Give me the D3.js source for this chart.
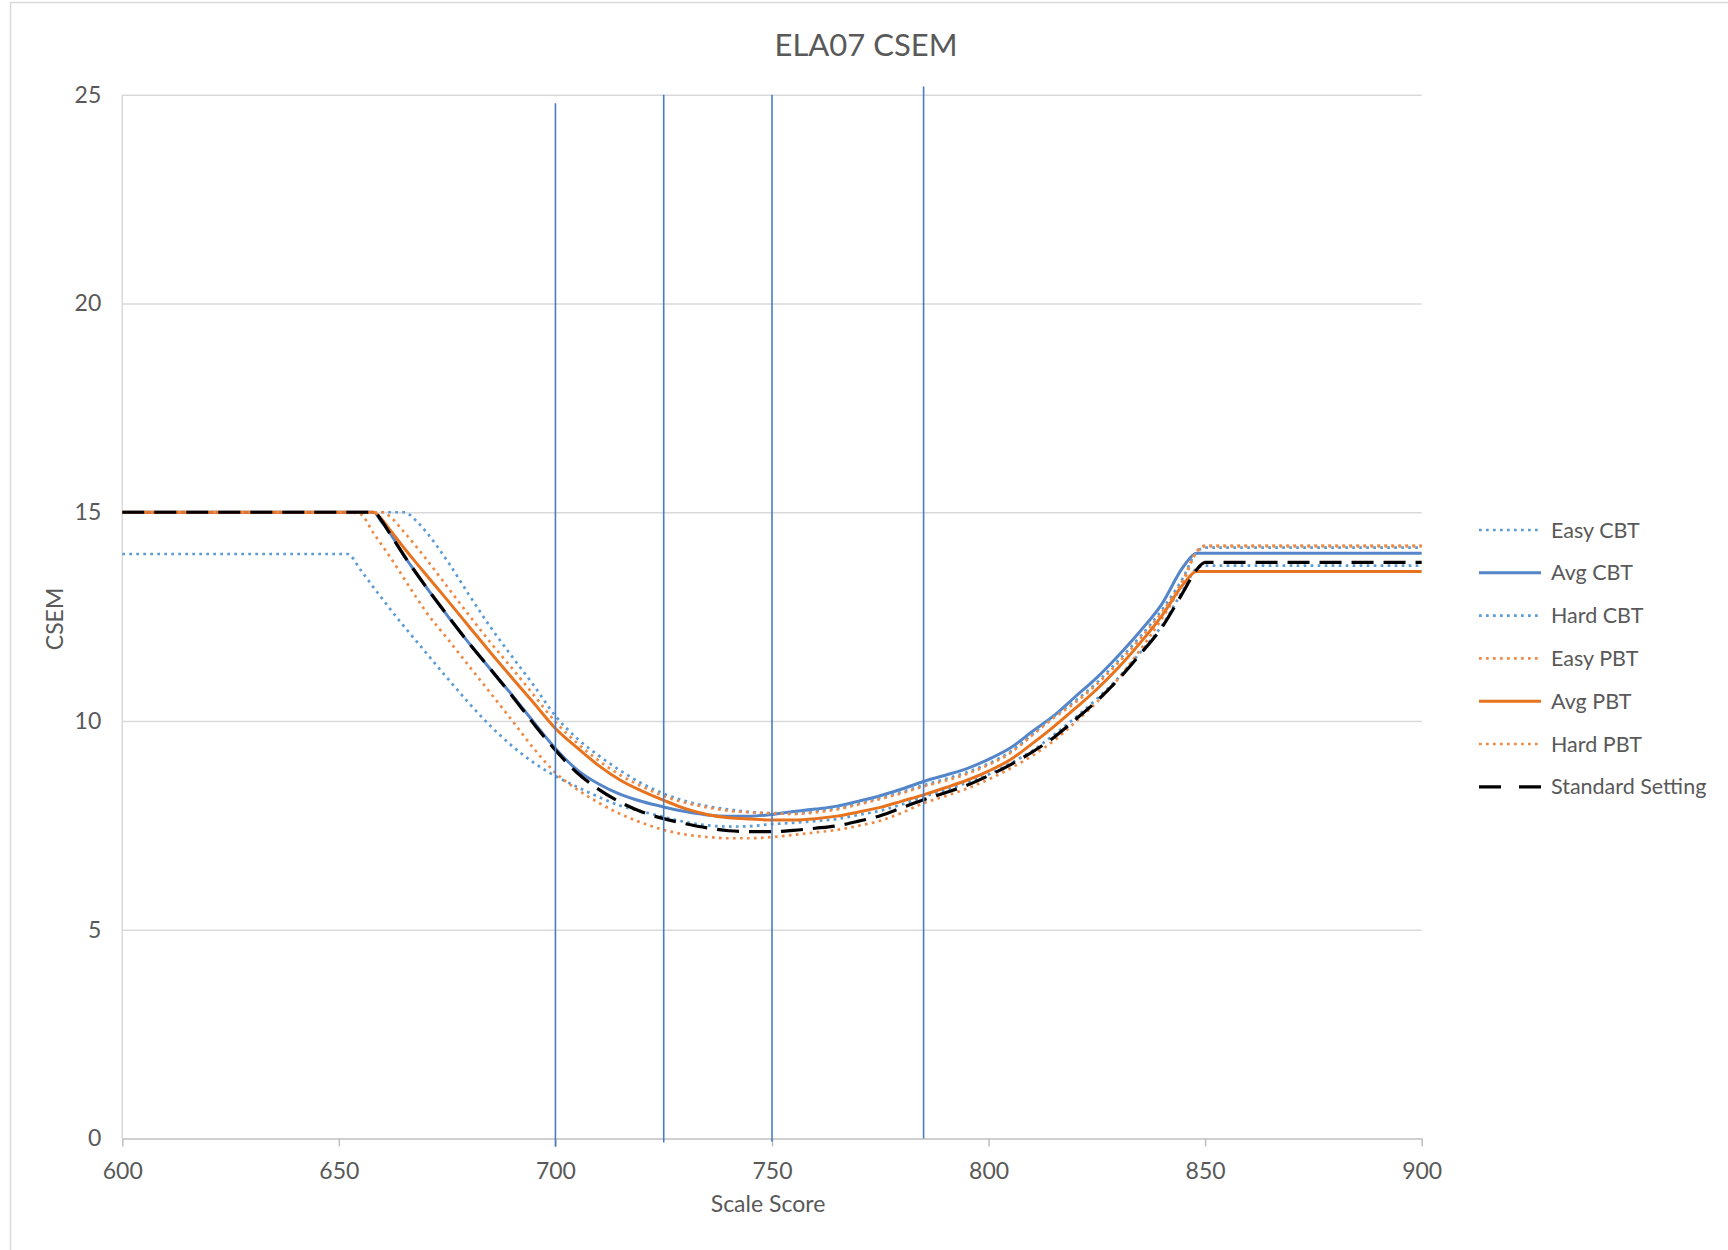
<!DOCTYPE html>
<html>
<head>
<meta charset="utf-8">
<script src="https://cdn.jsdelivr.net/npm/d3@7"></script>
<style>
  html, body { margin: 0; padding: 0; background: #ffffff; }
  svg { display: block; }
  text { font-family: Lato, "Open Sans", sans-serif; fill: #595959; }
</style>
</head>
<body>
<svg id="chart" width="1728" height="1250"></svg>
<script>
// Scale scores at which every CSEM series is tabulated
const scaleScores = [600, 650, 652, 655, 658, 660, 662, 665, 668, 670,
  675, 680, 685, 690, 695, 700, 705, 710, 715, 720, 725, 730, 735, 740, 745,
  750, 755, 760, 765, 770, 775, 780, 785, 790, 795, 800, 805, 810, 815, 820,
  825, 830, 835, 840, 845, 848, 850, 900];

const easyCBT = [14.0, 14.0, 14.0, 13.62, 13.2, 12.93, 12.66, 12.27, 11.9, 11.65,
  11.03, 10.43, 9.88, 9.4, 9.0, 8.68, 8.42, 8.18, 7.97, 7.83, 7.70, 7.58, 7.50, 7.47, 7.48,
  7.53, 7.56, 7.6, 7.65, 7.75, 7.85, 8.0, 8.18, 8.35, 8.52, 8.72, 8.98, 9.28, 9.66, 10.08,
  10.53, 11.04, 11.64, 12.28, 13.15, 13.65, 13.72, 13.72];

const avgCBT = [15, 15, 15, 15, 15, 14.75, 14.47, 13.97, 13.52, 13.23,
  12.53, 11.87, 11.24, 10.62, 9.97, 9.34, 8.83, 8.49, 8.24, 8.07, 7.94, 7.83, 7.75, 7.72, 7.72,
  7.76, 7.83, 7.89, 7.96, 8.08, 8.21, 8.37, 8.55, 8.7, 8.86, 9.08, 9.35, 9.74, 10.12, 10.58,
  11.04, 11.57, 12.15, 12.8, 13.7, 14.02, 14.02, 14.02];

const hardCBT = [15, 15, 15, 15, 15, 15, 15, 15, 14.78, 14.55,
  13.84, 13.03, 12.25, 11.54, 10.85, 10.12, 9.58, 9.17, 8.81, 8.5, 8.26, 8.08, 7.96, 7.88, 7.82,
  7.79, 7.79, 7.84, 7.91, 8.03, 8.16, 8.3, 8.46, 8.61, 8.77, 8.98, 9.26, 9.67, 10.1, 10.48,
  10.92, 11.45, 12.02, 12.66, 13.45, 14.05, 14.15, 14.15];

const easyPBT = [15, 15, 15, 14.95, 14.5, 14.2, 13.9, 13.42, 12.94, 12.63,
  11.98, 11.32, 10.67, 10.01, 9.34, 8.76, 8.36, 8.04, 7.77, 7.56, 7.39, 7.28, 7.22, 7.19, 7.19,
  7.22, 7.27, 7.33, 7.39, 7.49, 7.61, 7.8, 8.03, 8.2, 8.38, 8.6, 8.86, 9.16, 9.52, 9.97,
  10.45, 11.02, 11.7, 12.45, 13.35, 14.05, 14.2, 14.2];

const avgPBT = [15, 15, 15, 15, 15, 14.82, 14.55, 14.15, 13.77, 13.52,
  12.9, 12.27, 11.64, 11.03, 10.43, 9.82, 9.36, 8.93, 8.58, 8.32, 8.1, 7.9, 7.76, 7.68, 7.65,
  7.63, 7.63, 7.66, 7.72, 7.82, 7.93, 8.08, 8.23, 8.4, 8.58, 8.8, 9.07, 9.45, 9.86, 10.3,
  10.76, 11.28, 11.87, 12.52, 13.28, 13.58, 13.58, 13.58];

const hardPBT = [15, 15, 15, 15, 15, 15, 14.88, 14.53, 14.16, 13.9,
  13.22, 12.54, 11.88, 11.26, 10.62, 9.98, 9.47, 9.05, 8.7, 8.43, 8.2, 8.04, 7.93, 7.85, 7.81,
  7.79, 7.77, 7.81, 7.88, 8.0, 8.13, 8.27, 8.43, 8.57, 8.73, 8.95, 9.23, 9.65, 10.07, 10.44,
  10.88, 11.4, 11.97, 12.6, 13.4, 14.05, 14.18, 14.18];

const standardSetting = [15, 15, 15, 15, 15, 14.78, 14.45, 13.97, 13.52, 13.23,
  12.54, 11.87, 11.24, 10.6, 9.93, 9.3, 8.76, 8.36, 8.05, 7.82, 7.66, 7.54, 7.44, 7.37, 7.35,
  7.35, 7.38, 7.43, 7.49, 7.6, 7.73, 7.92, 8.11, 8.28, 8.46, 8.69, 8.95, 9.25, 9.6, 10.03,
  10.48, 11.0, 11.6, 12.24, 13.1, 13.62, 13.8, 13.8];

const seriesNames = ["Easy CBT", "Avg CBT", "Hard CBT", "Easy PBT", "Avg PBT", "Hard PBT", "Standard Setting"];
const seriesValues = [easyCBT, avgCBT, hardCBT, easyPBT, avgPBT, hardPBT, standardSetting];

// Cut-score reference lines (x position, lower and upper CSEM extent)
const cutScores = [700, 725, 750, 785];
const cutLow = [-0.2, -0.1, -0.08, 0];
const cutHigh = [24.8, 25, 25, 25.2];

const xTicks = [600, 650, 700, 750, 800, 850, 900];
const yTicks = [0, 5, 10, 15, 20, 25];

// Line styles per series
const styles = {
  "Easy CBT":         { color: "#5b9bd5", width: 2.7, dash: "2.7 4.3" },
  "Avg CBT":          { color: "#5585c9", width: 3,   dash: null },
  "Hard CBT":         { color: "#5b9bd5", width: 2.7, dash: "2.7 4.3" },
  "Easy PBT":         { color: "#ef8a46", width: 2.7, dash: "2.7 4.3" },
  "Avg PBT":          { color: "#e8731f", width: 3,   dash: null },
  "Hard PBT":         { color: "#ef8a46", width: 2.7, dash: "2.7 4.3" },
  "Standard Setting": { color: "#000000", width: 3.2, dash: "22 10" }
};

const svg = d3.select("#chart");

// Chart frame
svg.append("rect")
  .attr("x", 10.5).attr("y", 2.5)
  .attr("width", 1740).attr("height", 1260)
  .attr("fill", "none").attr("stroke", "#d9d9d9").attr("stroke-width", 1.5);

const x = d3.scaleLinear().domain([600, 900]).range([122.3, 1421.7]);
const y = d3.scaleLinear().domain([0, 25]).range([1138.4, 94.8]);

// Horizontal gridlines
svg.append("g")
  .attr("transform", `translate(${x(600)},0)`)
  .call(d3.axisLeft(y).tickValues(yTicks.filter(v => v > 0)).tickSize(-(x(900) - x(600))).tickFormat(""))
  .call(g => g.select(".domain").remove())
  .call(g => g.selectAll("line").attr("stroke", "#d9d9d9").attr("stroke-width", 1.5));

// Vertical axis line
svg.append("line")
  .attr("x1", x(600)).attr("x2", x(600))
  .attr("y1", y(25)).attr("y2", y(0))
  .attr("stroke", "#d9d9d9").attr("stroke-width", 1.5);

// Y tick labels
svg.append("g")
  .attr("transform", `translate(${x(600)},0)`)
  .call(d3.axisLeft(y).tickValues(yTicks).tickSize(0).tickPadding(21))
  .call(g => g.select(".domain").remove())
  .call(g => g.selectAll("text").attr("font-size", 23).attr("fill", "#595959")
    .attr("font-family", "Lato, 'Open Sans', sans-serif"));

// X axis with outward ticks
svg.append("g")
  .attr("transform", `translate(0,${y(0)})`)
  .call(d3.axisBottom(x).tickValues(xTicks).tickSize(8).tickSizeOuter(0).tickPadding(16))
  .call(g => g.select(".domain").attr("stroke", "#bfbfbf").attr("stroke-width", 1.5))
  .call(g => g.selectAll("line").attr("stroke", "#bfbfbf").attr("stroke-width", 1.5))
  .call(g => g.selectAll("text").attr("font-size", 23).attr("fill", "#595959")
    .attr("font-family", "Lato, 'Open Sans', sans-serif"));

// CSEM curves
const line = d3.line()
  .x((d, i) => x(scaleScores[i]))
  .y(d => y(d))
  .curve(d3.curveMonotoneX);

const curves = svg.append("g");
seriesNames.forEach((name, k) => {
  const s = styles[name];
  curves.append("path")
    .datum(seriesValues[k])
    .attr("d", line)
    .attr("fill", "none")
    .attr("stroke", s.color)
    .attr("stroke-width", s.width)
    .attr("stroke-linejoin", "round")
    .attr("stroke-dasharray", s.dash);
});

// Cut-score lines
svg.append("g").selectAll("line")
  .data(cutScores)
  .join("line")
  .attr("x1", d => x(d)).attr("x2", d => x(d))
  .attr("y1", (d, i) => y(cutLow[i])).attr("y2", (d, i) => y(cutHigh[i]))
  .attr("stroke", "#4a7cc4").attr("stroke-width", 1.6);

// Titles
svg.append("text")
  .attr("x", 866).attr("y", 56)
  .attr("text-anchor", "middle")
  .attr("font-size", 31)
  .text("ELA07 CSEM");

svg.append("text")
  .attr("x", 768).attr("y", 1212)
  .attr("text-anchor", "middle")
  .attr("font-size", 23)
  .text("Scale Score");

svg.append("text")
  .attr("transform", "translate(63,619) rotate(-90)")
  .attr("text-anchor", "middle")
  .attr("font-size", 23)
  .text("CSEM");

// Legend
const legend = svg.append("g");
const legendTop = 530, legendStep = 42.8;
seriesNames.forEach((name, k) => {
  const s = styles[name];
  const cy = legendTop + k * legendStep;
  legend.append("line")
    .attr("x1", 1479).attr("x2", 1541)
    .attr("y1", cy).attr("y2", cy)
    .attr("stroke", s.color)
    .attr("stroke-width", s.width)
    .attr("stroke-dasharray", name === "Standard Setting" ? "22 18" : s.dash);
  legend.append("text")
    .attr("x", 1551).attr("y", cy)
    .attr("dy", "0.35em")
    .attr("font-size", 21.5)
    .text(name);
});
</script>
</body>
</html>
